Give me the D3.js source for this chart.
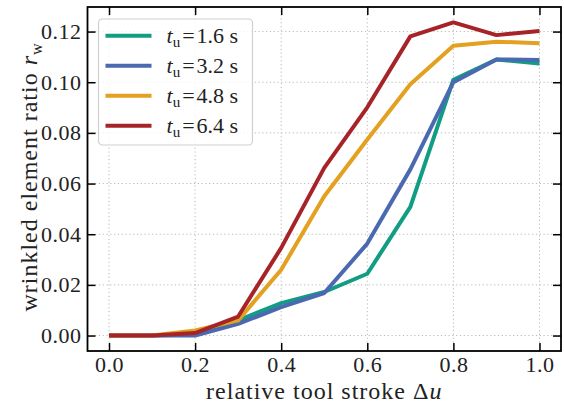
<!DOCTYPE html>
<html>
<head>
<meta charset="utf-8">
<script src="https://cdn.jsdelivr.net/npm/d3@7"></script>
<style>
  body { margin: 0; background: #fff; }
  svg text { font-family: "Liberation Serif", serif; fill: #222; }
</style>
</head>
<body>
<div id="chart"></div>
<script>
// stroke positions and wrinkle ratios
var strokes = [0, 0.1, 0.2, 0.3, 0.4, 0.5, 0.6, 0.7, 0.8, 0.9, 1.0];
var seriesNames = ["1.6", "3.2", "4.8", "6.4"];
var ratio16 = [0, 0, 0.0005, 0.006, 0.0128, 0.0172, 0.0244, 0.0508, 0.101, 0.109, 0.1074];
var ratio32 = [0, 0, 0, 0.0046, 0.0112, 0.0168, 0.0363, 0.0656, 0.100, 0.109, 0.1088];
var ratio48 = [0, 0, 0.002, 0.006, 0.026, 0.055, 0.0774, 0.0992, 0.1144, 0.116, 0.1154];
var ratio64 = [0, 0, 0.001, 0.0075, 0.0346, 0.0662, 0.0901, 0.1181, 0.1236, 0.1186, 0.1202];
var xTicks = [0, 0.2, 0.4, 0.6, 0.8, 1.0];
var yTicks = [0, 0.02, 0.04, 0.06, 0.08, 0.10, 0.12];

var colors = ["#119c84", "#4a69b0", "#e4a021", "#a62428"];
var allSeries = [ratio16, ratio32, ratio48, ratio64];

var svgWidth = 564;
var svgHeight = 403;

// plot frame
var margin = { top: 7, right: 3, bottom: 52, left: 87.5 };
var chartWidth = svgWidth - margin.left - margin.right;
var chartHeight = svgHeight - margin.top - margin.bottom;

var svg = d3.select("#chart")
  .append("svg")
  .attr("width", svgWidth)
  .attr("height", svgHeight);

var chartGroup = svg.append("g")
  .attr("transform", `translate(${margin.left}, ${margin.top})`);

var xScale = d3.scaleLinear().domain([-0.05, 1.05]).range([0, chartWidth]);
var yScale = d3.scaleLinear().domain([-0.0061, 0.1297]).range([chartHeight, 0]);

// dotted grid
chartGroup.append("g").selectAll("line")
  .data(xTicks).enter().append("line")
  .attr("x1", d => xScale(d)).attr("x2", d => xScale(d))
  .attr("y1", 0).attr("y2", chartHeight)
  .attr("stroke", "#b8b8b8").attr("stroke-width", 1)
  .attr("stroke-dasharray", "1.2,2.6");
chartGroup.append("g").selectAll("line")
  .data(yTicks).enter().append("line")
  .attr("y1", d => yScale(d)).attr("y2", d => yScale(d))
  .attr("x1", 0).attr("x2", chartWidth)
  .attr("stroke", "#b8b8b8").attr("stroke-width", 1)
  .attr("stroke-dasharray", "1.2,2.6");

// lines
var line = d3.line()
  .x((d, i) => xScale(strokes[i]))
  .y(d => yScale(d));

allSeries.forEach(function(vals, k) {
  chartGroup.append("path")
    .datum(vals)
    .attr("d", line)
    .attr("fill", "none")
    .attr("stroke", colors[k])
    .attr("stroke-width", 4)
    .attr("stroke-linejoin", "round");
});

// axes, ticks pointing inward on all sides
var bottomAxis = d3.axisBottom(xScale).tickValues(xTicks).tickFormat(d3.format(".1f"))
  .tickSizeInner(-8).tickSizeOuter(0).tickPadding(5);
var topAxis = d3.axisTop(xScale).tickValues(xTicks).tickFormat("")
  .tickSizeInner(-8).tickSizeOuter(0);
var leftAxis = d3.axisLeft(yScale).tickValues(yTicks).tickFormat(d3.format(".2f"))
  .tickSizeInner(-8).tickSizeOuter(0).tickPadding(6);
var rightAxis = d3.axisRight(yScale).tickValues(yTicks).tickFormat("")
  .tickSizeInner(-8).tickSizeOuter(0);

function styleAxis(g) {
  g.attr("font-family", "Liberation Serif").attr("font-size", 22);
  g.select(".domain").remove();
  g.selectAll(".tick line").attr("stroke", "#000").attr("stroke-width", 1.5);
  g.selectAll(".tick text")
    .attr("font-family", "Liberation Serif")
    .style("letter-spacing", "0.5px")
    .attr("fill", "#222");
}

chartGroup.append("g").attr("transform", `translate(0, ${chartHeight})`).call(bottomAxis).call(styleAxis);
chartGroup.append("g").call(topAxis).call(styleAxis);
chartGroup.append("g").call(leftAxis).call(styleAxis);
chartGroup.append("g").attr("transform", `translate(${chartWidth}, 0)`).call(rightAxis).call(styleAxis);

// frame
chartGroup.append("rect")
  .attr("width", chartWidth).attr("height", chartHeight)
  .attr("fill", "none").attr("stroke", "#000").attr("stroke-width", 1.8);

// axis labels
var xLabel = svg.append("text")
  .attr("x", margin.left + chartWidth / 2)
  .attr("y", 399)
  .attr("text-anchor", "middle")
  .style("font-size", "24px")
  .style("letter-spacing", "1px");
xLabel.append("tspan").text("relative tool stroke \u0394");
xLabel.append("tspan").style("font-style", "italic").text("u");

var yLabel = svg.append("text")
  .attr("transform", "translate(37, 177) rotate(-90)")
  .attr("text-anchor", "middle")
  .style("font-size", "24px")
  .style("letter-spacing", "1px");
yLabel.append("tspan").text("wrinkled element ratio ");
yLabel.append("tspan").style("font-style", "italic").text("r");
yLabel.append("tspan").attr("dy", 5).style("font-size", "16px").text("w");

// legend
var legend = svg.append("g").attr("transform", "translate(98.5, 19)");
legend.append("rect")
  .attr("width", 154).attr("height", 126).attr("rx", 4)
  .attr("fill", "#fff").attr("fill-opacity", 0.8)
  .attr("stroke", "#d0d0d0").attr("stroke-width", 1.2);

seriesNames.forEach(function(name, k) {
  var row = legend.append("g").attr("transform", `translate(0, ${16.7 + k * 30})`);
  row.append("line")
    .attr("x1", 7).attr("x2", 53)
    .attr("stroke", colors[k]).attr("stroke-width", 4);
  var t = row.append("text").attr("x", 68).attr("y", 7.5).style("font-size", "22px");
  t.append("tspan").style("font-style", "italic").text("t");
  t.append("tspan").attr("dy", 4).style("font-size", "15px").text("u");
  t.append("tspan").attr("dy", -4).attr("dx", 2).text("=");
  t.append("tspan").attr("dx", 2).text(name + " s");
});
</script>
</body>
</html>
